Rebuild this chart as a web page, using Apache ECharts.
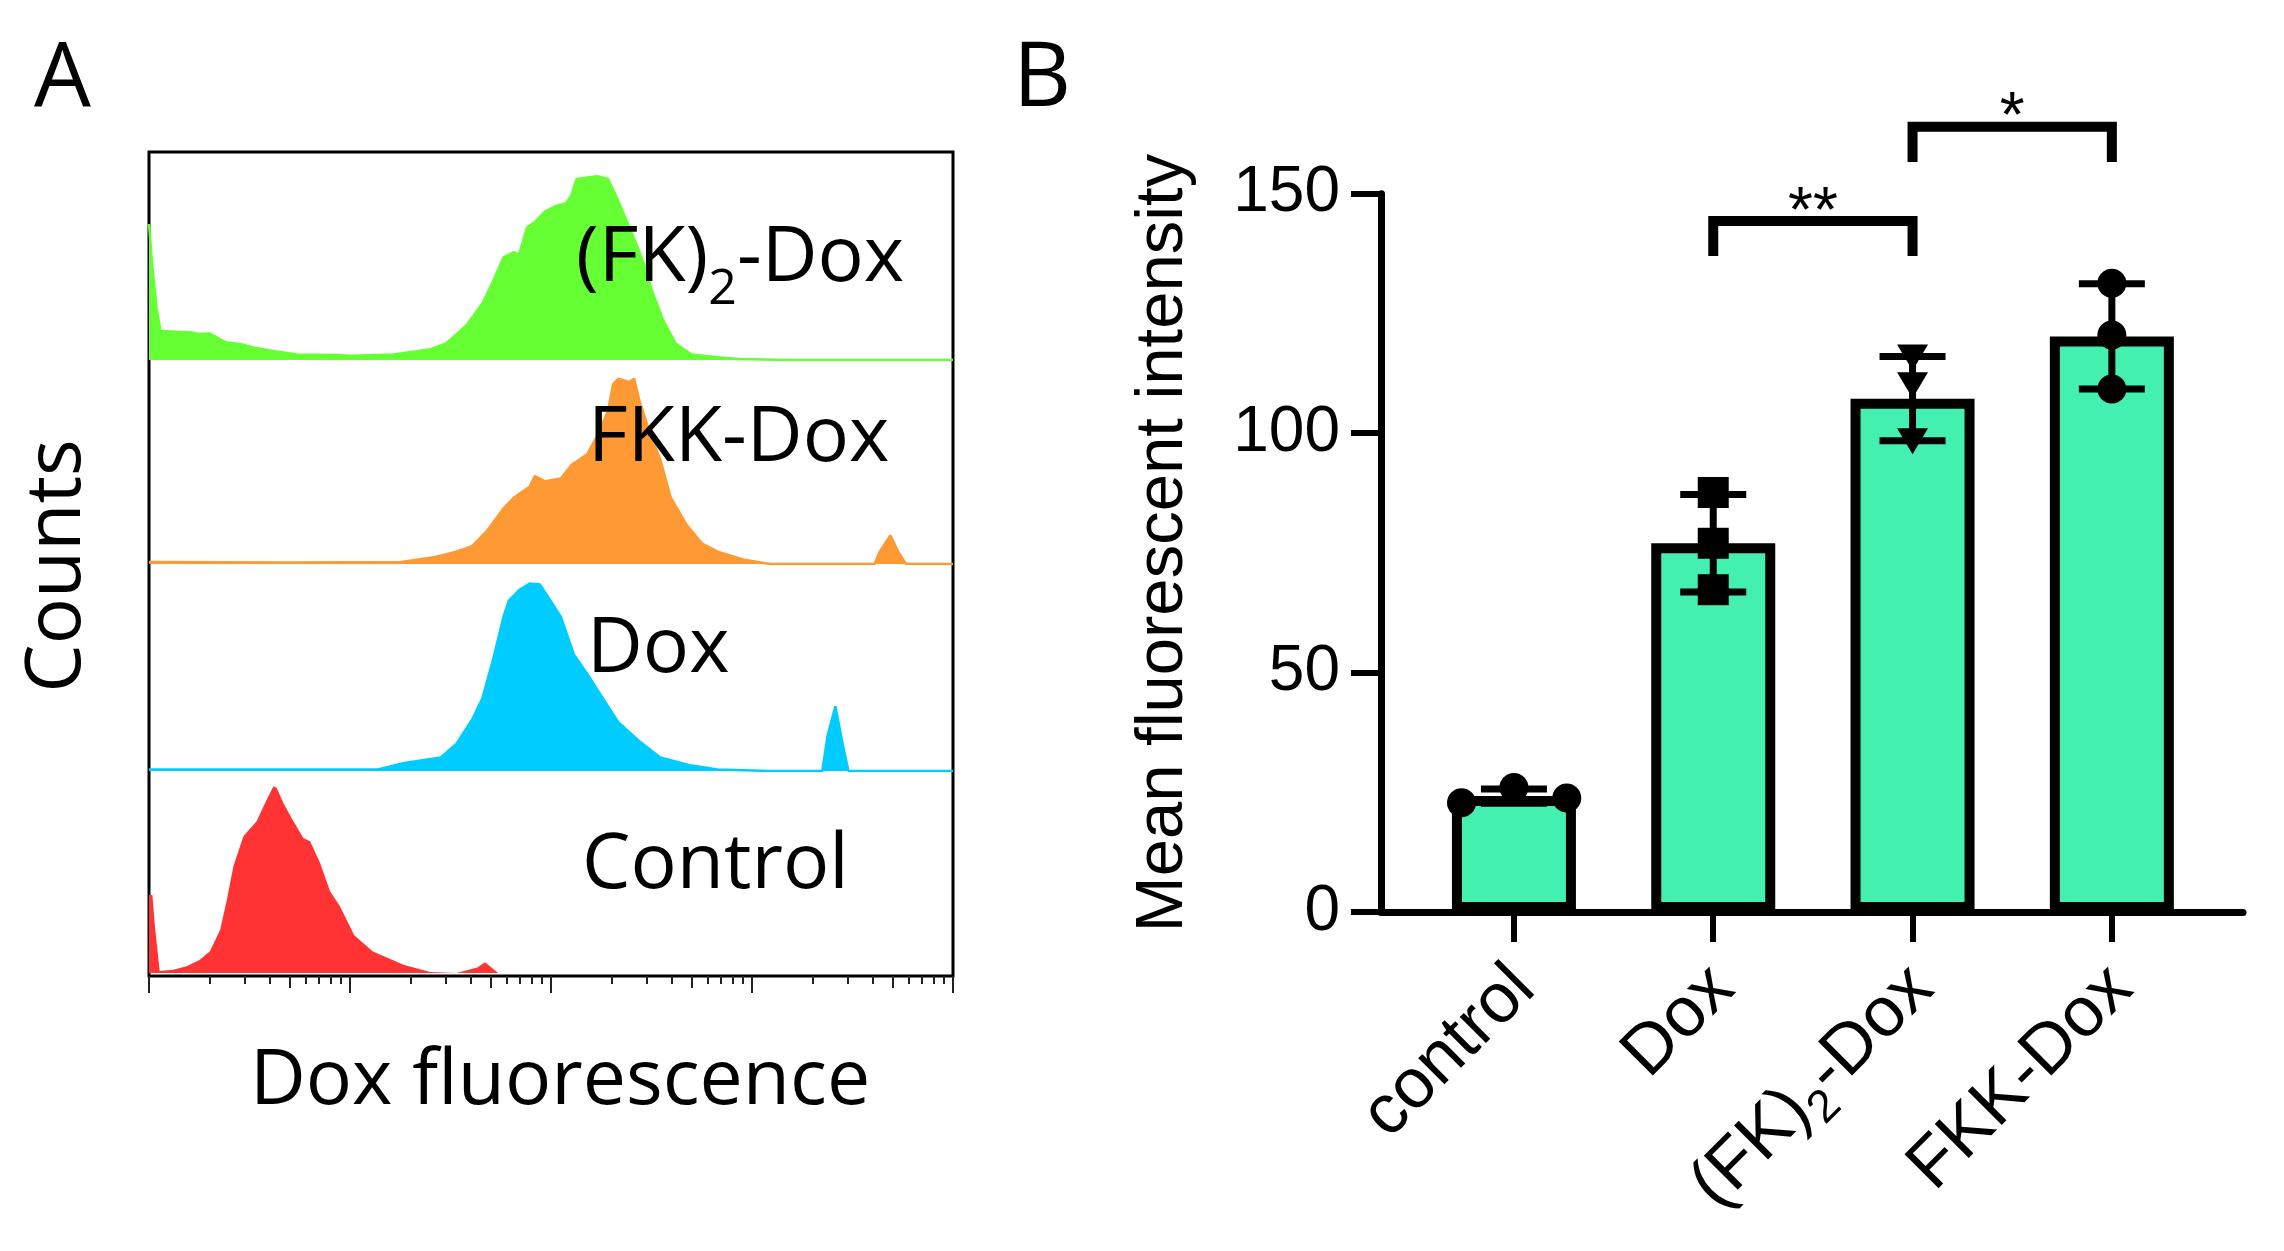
<!DOCTYPE html>
<html>
<head>
<meta charset="utf-8">
<script src="https://cdn.jsdelivr.net/npm/echarts@6/dist/echarts.min.js"></script>
<style>
html,body{margin:0;padding:0;background:#ffffff;}
#chart{width:2284px;height:1251px;}
</style>
</head>
<body>
<div id="chart"></div>
<script>
// ================= DATA =================
// Panel A: flow cytometry histograms, [Dox fluorescence (log scale), relative counts]
const histFK2 = [[1.0,136],[1.04,92],[1.09,52],[1.14,29],[1.63,27.5],[1.76,26],[2.01,26.5],[2.25,21],[2.44,17.5],[2.84,16],[3.3,12.5],[4.15,9],[5.43,5.5],[8.26,5],[10.2,4.3],[16.5,5.4],[25.1,10.8],[30,16.2],[38.1,35],[45.6,56.7],[51.4,78.3],[58,102.6],[65.4,108],[69.4,105.3],[75.9,132.4],[83.1,137.8],[93.6,148.6],[105.5,154],[119,156.7],[126.3,164.8],[134.1,181],[170.4,183.7],[192.1,181],[210,164.8],[230,145.9],[259,121.6],[292,94.5],[320,67.5],[360,40.5],[418,16.2],[500,5.4],[675,2.7],[858,1],[1500,0],[10000,0]];
const histFKK = [[1,2],[5,1.5],[18,2],[26.6,7],[33.8,12.4],[40.5,17.8],[48.4,34],[58,55.6],[65.4,66.5],[78.2,77.3],[83.1,88],[93.6,82.7],[112,85.4],[126.3,98.9],[151.2,109.7],[170.4,128.6],[192.1,152.9],[203.9,179.9],[216.5,185.3],[244.1,182],[259.2,185.3],[275.1,163.7],[310.1,131.3],[349.7,104.3],[394.1,66.5],[471.7,39.4],[564.6,20.5],[675,12.4],[911,4.3],[1229,0],[4072,0],[4324,12.4],[4875,28.6],[5334,12.4],[5834,0],[10000,0]];
const histDox = [[1,1.6],[13.8,1.6],[18.6,8.1],[28.3,13.5],[33.8,27],[40.5,51.3],[45.6,72.9],[51.4,110.8],[58,154],[61.6,170.2],[69.4,181],[78.2,187.5],[88.2,186.4],[99.4,170.2],[112,154],[130.1,116.2],[151.2,97.2],[180.9,72.9],[216.5,48.6],[275.1,29.7],[349.7,13.5],[500.7,5.4],[675,1.6],[1229,0],[2238,0],[2376,35.1],[2599,64.8],[2843,24.3],[3018,0],[10000,0]];
const histControl = [[1.0,78],[1.04,78],[1.07,46.7],[1.13,2],[1.32,3.3],[1.54,6.7],[1.79,13.3],[2.01,21.7],[2.26,43.3],[2.44,73.3],[2.63,106.7],[2.95,136.7],[3.43,151.7],[3.85,173.3],[4.16,186.7],[4.32,185],[4.66,170],[5.23,151.7],[5.86,135],[6.33,131.7],[7.1,110],[7.96,81.7],[8.91,66.7],[10.5,37.8],[13,21.6],[18.6,8.1],[25.1,1],[33.8,0],[43,5.4],[47,10.8],[54.6,0],[10000,0]];
const histLabels = ['{n|(FK)}{s|2}{n|-Dox}', 'FKK-Dox', 'Dox', 'Control'];
const logMajorTicks = [1, 10, 100, 1000, 10000];
const logMidTicks = [5, 50, 500, 5000];
const logMinorTicks = [1, 10, 100, 1000].flatMap(d => [2, 3, 4, 6, 7, 8, 9].map(k => k * d));

// Panel B: mean fluorescent intensity
const categories = ['control', 'Dox', '(FK)2-Dox', 'FKK-Dox'];
const barMeans = [24.2, 77.0, 107.2, 120.2];
const barSD = [1.5, 10.2, 8.8, 11.0];
const pointsControl = [22.8, 26.0, 23.8];
const pointsDox = [87.6, 77.0, 67.3];
const pointsFK2 = [115.8, 110.0, 98.3];
const pointsFKK = [131.3, 120.5, 109.2];
const yTicks = [0, 50, 100, 150];
// [from category, to category, bracket top value, leg bottom value, label]
const sigBrackets = [[1, 2, 144.3, 137.0, '**'], [2, 3, 164.0, 156.6, '*']];

// ================= STYLE =================
const fA = 'Open Sans';
const fB = 'Liberation Sans';
const histColors = ['#66FF33', '#FF9933', '#00CCFF', '#FF3333'];
const histLineW = [2.5, 2.5, 2.5, 0];
const histSets = [histFK2, histFKK, histDox, histControl];
// panel A band layout (px)
const frameL = 149, frameW = 804, frameT = 152, frameH = 824;
const bands = [[152, 208], [360, 204], [564, 207], [771, 202]];
const controlJitter = [-0.263, 0, 0.265];
const xMinB = -0.667, xMaxB = 3.658;

const chart = echarts.init(document.getElementById('chart'), null, {renderer: 'canvas'});

const grids = [
  {left: frameL, top: frameT, width: frameW, height: frameH, show: true, borderColor: '#000', borderWidth: 3, backgroundColor: 'transparent'}
];
bands.forEach(b => grids.push({left: frameL, top: b[0], width: frameW, height: b[1]}));
grids.push({left: 1381, top: 193.7, width: 862, height: 718.3});

const tickAxis = (vals, len) => ({
  type: 'log', logBase: 10, min: 1, max: 10000, gridIndex: 0, position: 'bottom',
  axisLine: {show: false, onZero: false},
  axisTick: {show: true, customValues: vals, length: len, inside: false, lineStyle: {color: '#222', width: 2}},
  axisLabel: {show: false}, splitLine: {show: false}, minorTick: {show: false}
});

const xAxes = [tickAxis(logMajorTicks, 17), tickAxis(logMidTicks, 12), tickAxis(logMinorTicks, 8)];
bands.forEach((b, i) => xAxes.push({
  type: 'log', logBase: 10, min: 1, max: 10000, gridIndex: i + 1, show: false, splitLine: {show: false}
}));
// panel B x axis (index 7)
xAxes.push({
  type: 'value', gridIndex: 5, min: xMinB, max: xMaxB, position: 'bottom',
  axisLine: {show: true, onZero: false, lineStyle: {color: '#000', width: 7}},
  axisTick: {show: true, customValues: [0, 1, 2, 3], length: 30, lineStyle: {color: '#000', width: 6}},
  axisLabel: {show: false}, splitLine: {show: false}
});
// panel B category labels (index 8)
xAxes.push({
  type: 'value', gridIndex: 5, min: xMinB + 0.075, max: xMaxB + 0.075, position: 'bottom',
  axisLine: {show: false, onZero: false}, axisTick: {show: false}, splitLine: {show: false},
  axisLabel: {
    show: true, customValues: [0, 1, 2, 3], rotate: 45, margin: 41,
    align: 'right', verticalAlign: 'top', color: '#000', fontFamily: fB, fontSize: 70, lineHeight: 72,
    formatter: v => {
      const c = categories[Math.round(v)];
      return c === '(FK)2-Dox' ? '{n|(FK)}{s|2}{n|-Dox}' : '{n|' + c + '}';
    },
    rich: {
      n: {fontFamily: fB, fontSize: 70, lineHeight: 72, verticalAlign: 'top', color: '#000'},
      s: {fontFamily: fB, fontSize: 46, lineHeight: 81, verticalAlign: 'bottom', color: '#000'}
    }
  }
});

const yAxes = [{type: 'value', gridIndex: 0, min: 0, max: 1, show: false, splitLine: {show: false}}];
bands.forEach((b, i) => yAxes.push({type: 'value', gridIndex: i + 1, min: 0, max: b[1], show: false, splitLine: {show: false}}));
yAxes.push({
  type: 'value', gridIndex: 5, min: 0, max: 150, interval: 50, position: 'left',
  axisLine: {show: true, onZero: false, lineStyle: {color: '#000', width: 7}},
  axisTick: {show: true, length: 30, lineStyle: {color: '#000', width: 6}},
  axisLabel: {show: true, margin: 41, color: '#000', fontFamily: fB, fontSize: 64,
    customValues: yTicks, formatter: v => String(v)},
  splitLine: {show: false}
});

const series = [];
histSets.forEach((d, i) => series.push({
  type: 'line', xAxisIndex: 3 + i, yAxisIndex: 1 + i, data: d,
  showSymbol: false, symbol: 'none', smooth: false, silent: true,
  lineStyle: {color: histColors[i], width: histLineW[i]},
  areaStyle: {color: histColors[i], opacity: 1},
  z: 2
}));

series.push({
  type: 'bar', xAxisIndex: 7, yAxisIndex: 5,
  data: barMeans.map((v, i) => [i, v]), barWidth: 124,
  itemStyle: {color: '#43F0AF', borderColor: '#000', borderWidth: 10},
  z: 2
});

series.push({
  type: 'custom', xAxisIndex: 7, yAxisIndex: 5, z: 3,
  data: barMeans.map((v, i) => [i, v, barSD[i]]),
  renderItem: (params, api) => {
    const x = api.value(0), m = api.value(1), s = api.value(2);
    const t = api.coord([x, m + s]), b = api.coord([x, m - s]);
    const hw = 33, st = {stroke: '#000', lineWidth: 7};
    return {type: 'group', children: [
      {type: 'line', shape: {x1: t[0], y1: t[1], x2: b[0], y2: b[1]}, style: st},
      {type: 'line', shape: {x1: t[0] - hw, y1: t[1], x2: t[0] + hw, y2: t[1]}, style: st},
      {type: 'line', shape: {x1: b[0] - hw, y1: b[1], x2: b[0] + hw, y2: b[1]}, style: st}
    ]};
  }
});

const sc = (data, symbol, size, rot) => ({
  type: 'scatter', xAxisIndex: 7, yAxisIndex: 5, data: data, symbol: symbol, symbolSize: size,
  symbolRotate: rot || 0, itemStyle: {color: '#000', opacity: 1}, z: 4
});
series.push(sc(pointsControl.map((v, i) => [controlJitter[i], v]), 'circle', 29));
series.push(sc(pointsDox.map(v => [1, v]), 'rect', 31));
series.push(sc(pointsFK2.map(v => [2, v]), 'triangle', [31, 26], 180));
series.push(sc(pointsFKK.map(v => [3, v]), 'circle', 29));

series.push({
  type: 'custom', xAxisIndex: 7, yAxisIndex: 5, z: 5, clip: false,
  data: sigBrackets.map(b => [b[0], b[1], b[2], b[3]]),
  renderItem: (params, api) => {
    const x1 = api.value(0), x2 = api.value(1), yt = api.value(2), yl = api.value(3);
    const a = api.coord([x1, yl]), b = api.coord([x1, yt]), c = api.coord([x2, yt]), d = api.coord([x2, yl]);
    return {type: 'group', children: [
      {type: 'polyline', shape: {points: [a, b, c, d]},
        style: {stroke: '#000', lineWidth: 10, fill: null, lineJoin: 'miter', lineCap: 'butt'}},
      {type: 'text', x: (b[0] + c[0]) / 2, y: b[1] - 7,
        style: {text: sigBrackets[params.dataIndex][4], fontFamily: fB, fontSize: 64, fill: '#000',
          align: 'center', verticalAlign: 'middle'}}
    ]};
  }
});

const txt = (text, x, y, size, opts) => Object.assign({
  type: 'text', x: x, y: y, z: 100,
  style: Object.assign({text: text, fontFamily: fA, fontSize: size, fill: '#000', align: 'left', verticalAlign: 'middle'}, (opts && opts.style) || {})
}, (opts && opts.el) || {});

const graphics = [
  txt('A', 34, 80, 90),
  txt('B', 1013, 80, 90),
  txt('Counts', 58, 566, 77, {style: {align: 'center'}, el: {rotation: Math.PI / 2}}),
  txt('Dox fluorescence', 560, 1082, 77, {style: {align: 'center'}}),
  {type: 'text', x: 576, y: 221, z: 100, style: {
    text: histLabels[0], fontFamily: fA, fontSize: 77, fill: '#000', align: 'left', verticalAlign: 'top',
    rich: {
      n: {fontFamily: fA, fontSize: 77, lineHeight: 80, verticalAlign: 'top', fill: '#000'},
      s: {fontFamily: fA, fontSize: 50, lineHeight: 94, verticalAlign: 'bottom', fill: '#000'}
    }}},
  txt(histLabels[1], 588, 439, 77),
  txt(histLabels[2], 587, 650, 77),
  txt(histLabels[3], 582, 866, 77),
  txt('Mean fluorescent intensity', 1164, 543, 67, {style: {align: 'center', fontFamily: fB}, el: {rotation: Math.PI / 2}})
];

chart.setOption({
  animation: false,
  backgroundColor: '#ffffff',
  grid: grids,
  xAxis: xAxes,
  yAxis: yAxes,
  series: series,
  graphic: graphics
});
</script>
</body>
</html>
